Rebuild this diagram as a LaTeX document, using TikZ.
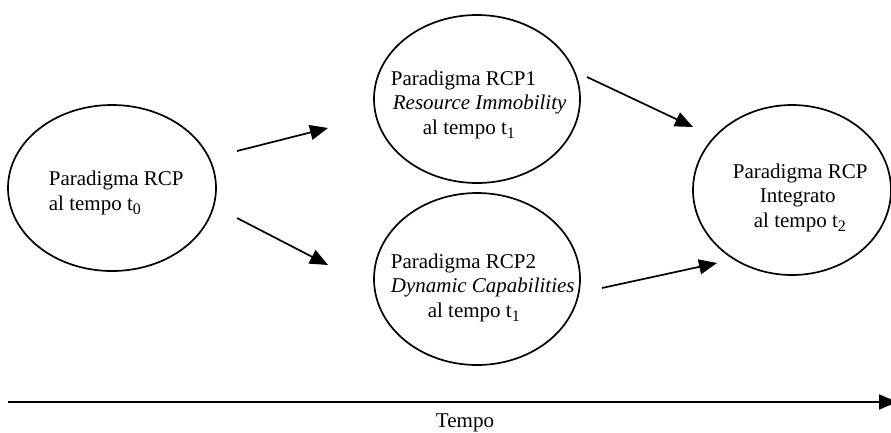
\documentclass[tikz,border=0pt]{standalone}
\usepackage{fontspec}
\setmainfont{Liberation Serif}
\usetikzlibrary{arrows.meta,shapes.geometric}

\newcommand{\pedice}[1]{\raisebox{-4pt}{\fontsize{16}{16}\selectfont #1}}

\begin{document}
\begin{tikzpicture}[x=1pt,y=-1pt,line width=1.7pt,
                    para node/.style={ellipse,draw,inner sep=0pt},
                    text node/.style={anchor=base west,inner sep=0pt,align=left,
                      font=\fontsize{21}{24.5}\selectfont},
                    flow/.style={-{Triangle[length=18pt,width=15pt]}}]
  \useasboundingbox (0,0) rectangle (891,432);
  %paradigmi%
  \node[para node,minimum width=208pt,minimum height=166pt] (p0) at (112,188) {};
  \node[para node,minimum width=206pt,minimum height=168pt] (p1) at (477,99) {};
  \node[para node,minimum width=206pt,minimum height=172pt] (p2) at (477,279) {};
  \node[para node,minimum width=198pt,minimum height=170pt] (p3) at (792,190) {};

  \node[text node] (t0) at (48,210) {Paradigma RCP\\al tempo t\pedice{0}};
  \node[text node] (t1) at (390,134) {Paradigma RCP1\\
    \hspace*{2pt}\textit{Resource Immobility}\\
    \hspace*{32pt}al tempo t\pedice{1}};
  \node[text node] (t2) at (390,317) {Paradigma RCP2\\
    \textit{Dynamic Capabilities}\\
    \hspace*{37pt}al tempo t\pedice{1}};
  \node[text node] (t3) at (732,227) {Paradigma RCP\\
    \hspace*{27pt}Integrato\\
    \hspace*{21pt}al tempo t\pedice{2}};

  %frecce%
  \coordinate (a1) at (237,151);  \coordinate (b1) at (328,128);
  \coordinate (a2) at (237,218);  \coordinate (b2) at (328,265);
  \coordinate (a3) at (587,77);   \coordinate (b3) at (693,127);
  \coordinate (a4) at (602,288);  \coordinate (b4) at (717,263);
  \draw[flow] (a1) -- (b1);
  \draw[flow] (a2) -- (b2);
  \draw[flow] (a3) -- (b3);
  \draw[flow] (a4) -- (b4);

  %tempo%
  \coordinate (s) at (8,402);
  \coordinate (e) at (897,402);
  \draw[flow,line width=2pt] (s) -- (e);
  \node[text node,anchor=base] (tempo) at (465,427) {Tempo};
\end{tikzpicture}
\end{document}
